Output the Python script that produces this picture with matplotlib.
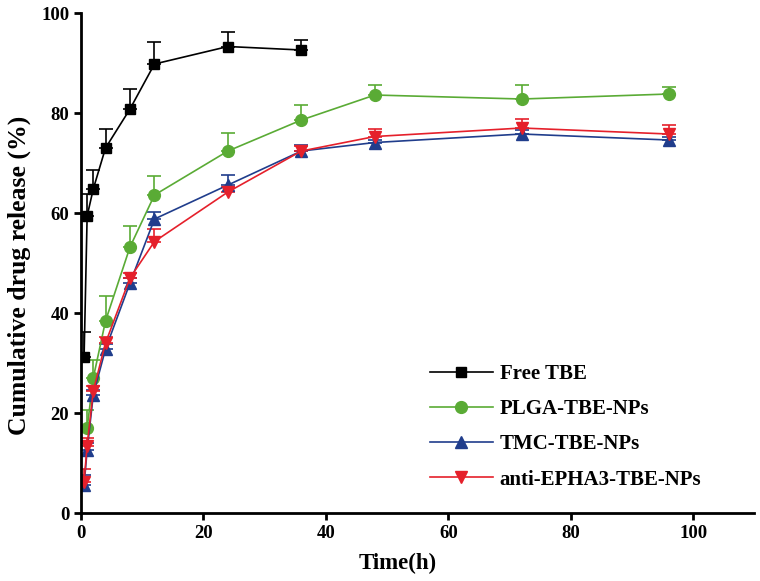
import numpy as np
import matplotlib.pyplot as plt
from matplotlib.lines import Line2D

plt.rcParams['font.family'] = ['Liberation Serif', 'DejaVu Serif']
plt.rcParams['font.weight'] = 'bold'

# Data
t_free = [0.5, 1, 2, 4, 8, 12, 24, 36]
free = [31.2, 59.4, 64.8, 73.0, 80.8, 89.8, 93.3, 92.6]
free_err = [5.0, 4.5, 3.8, 3.8, 4.0, 4.4, 2.9, 2.0]

t_plga = [1, 2, 4, 8, 12, 24, 36, 48, 72, 96]
plga = [17.0, 27.0, 38.4, 53.2, 63.6, 72.4, 78.6, 83.6, 82.8, 83.8]
plga_err = [3.6, 3.6, 5.0, 4.2, 3.8, 3.6, 3.0, 2.0, 2.8, 1.5]

t_np = [0.5, 1, 2, 4, 8, 12, 24, 36, 48, 72, 96]
tmc = [5.6, 12.6, 23.6, 32.8, 46.0, 58.8, 65.6, 72.4, 74.1, 75.8, 74.6]
tmc_err = [2.0, 1.5, 1.0, 1.0, 1.0, 1.4, 2.0, 1.2, 0.6, 0.8, 0.6]
anti = [6.3, 13.5, 24.4, 34.0, 47.0, 54.3, 64.2, 72.4, 75.3, 77.0, 75.8]
anti_err = [2.6, 1.5, 1.0, 1.2, 1.0, 2.6, 1.0, 1.0, 1.5, 1.8, 1.8]

fig = plt.figure(figsize=(7.6, 5.81), dpi=100)
ax = fig.add_axes([0.1066, 0.117, 0.886, 0.8606])

series = [
    (t_free, free, free_err, 'Free TBE', 'black', 's', 7),
    (t_plga, plga, plga_err, 'PLGA-TBE-NPs', '#5aab35', 'o', 8.5),
    (t_np, tmc, tmc_err, 'TMC-TBE-NPs', '#203d8c', '^', 9),
    (t_np, anti, anti_err, 'anti-EPHA3-TBE-NPs', '#e5202b', 'v', 9),
]
handles = []
for t, y, e, lab, c, m, ms in series:
    lower = np.zeros(len(e))
    ax.errorbar(t, y, yerr=[lower, e], color=c, marker=m, markersize=ms,
                linewidth=1.2, elinewidth=1.2, capsize=5, capthick=1.2)
    handles.append(Line2D([], [], color=c, marker=m, markersize=ms,
                          linewidth=1.2, label=lab))

ax.set_xlim(0, 110)
ax.set_ylim(0, 100)
ax.set_xticks([0, 20, 40, 60, 80, 100])
ax.set_yticks([0, 20, 40, 60, 80, 100])
for s in ['top', 'right']:
    ax.spines[s].set_visible(False)
for s in ['left', 'bottom']:
    ax.spines[s].set_linewidth(2)
ax.tick_params(width=2, length=5, labelsize=13.5)
for lbl in ax.get_xticklabels() + ax.get_yticklabels():
    lbl.set_fontweight('bold')
ax.set_xlabel('Time(h)', fontsize=16.5, fontweight='bold')
ax.xaxis.set_label_coords(0.47, -0.08)
ax.set_ylabel('Cumulative drug release (%)', fontsize=18.5, fontweight='bold')
ax.yaxis.set_label_coords(-0.074, 0.476)

leg = ax.legend(handles=handles, loc='upper left',
                bbox_to_anchor=(430 / 760, 1 - 364 / 581),
                bbox_transform=fig.transFigure, borderaxespad=0, borderpad=0,
                frameon=False, fontsize=15, handlelength=3.0,
                labelspacing=0.73, handletextpad=0.35)
for txt in leg.get_texts():
    txt.set_fontweight('bold')

fig.savefig('out.png', dpi=100)
